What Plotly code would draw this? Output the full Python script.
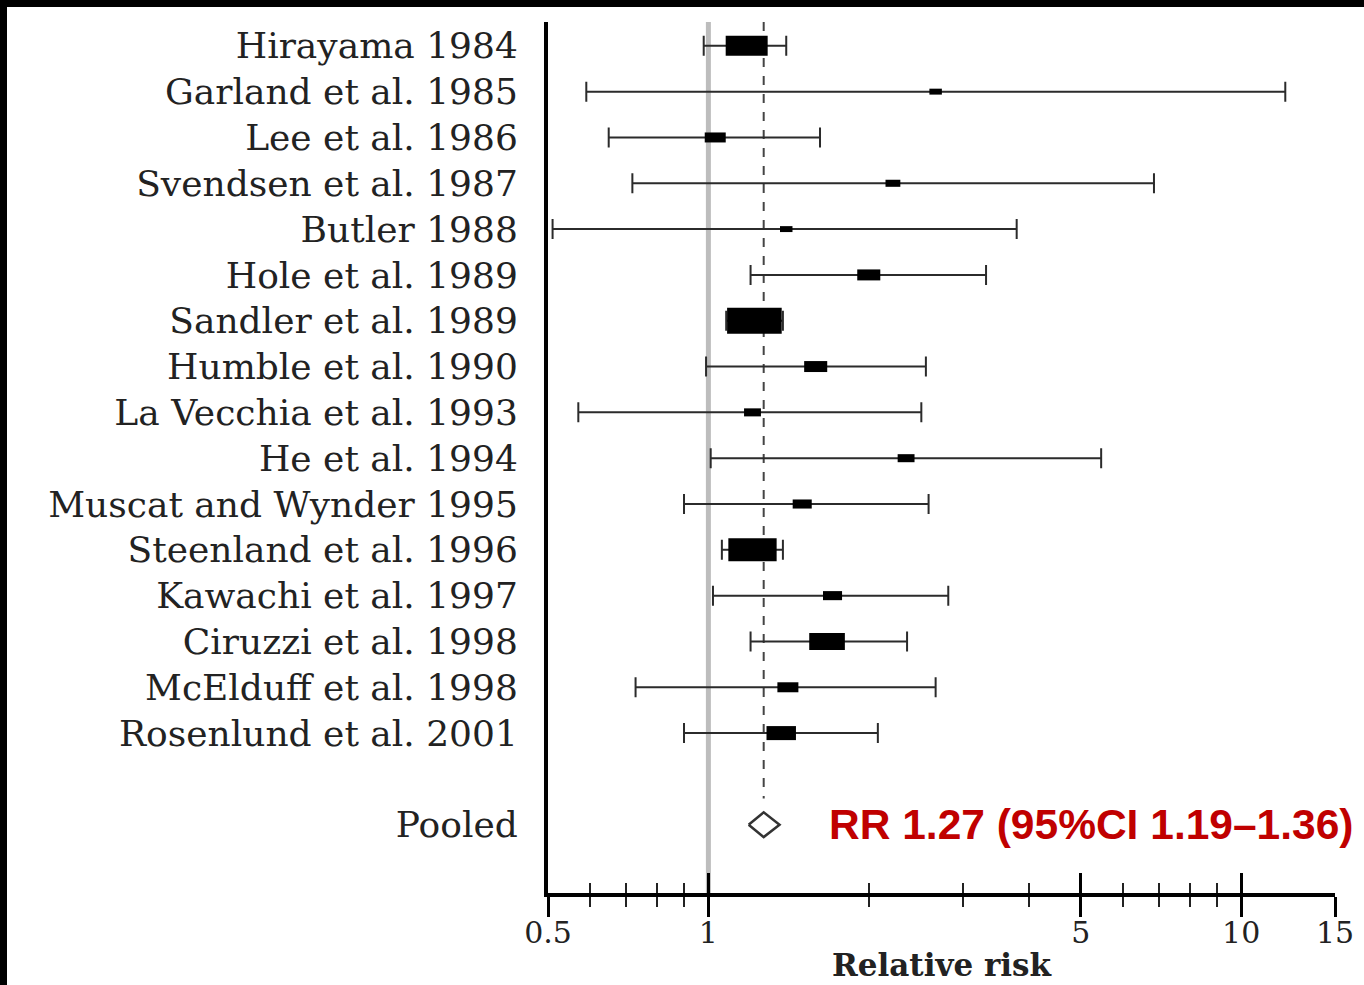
import numpy as np
import plotly.graph_objects as go

# Study-level relative risks with 95% confidence intervals
studies = [
    "Hirayama 1984", "Garland et al. 1985", "Lee et al. 1986", "Svendsen et al. 1987",
    "Butler 1988", "Hole et al. 1989", "Sandler et al. 1989", "Humble et al. 1990",
    "La Vecchia et al. 1993", "He et al. 1994", "Muscat and Wynder 1995",
    "Steenland et al. 1996", "Kawachi et al. 1997", "Ciruzzi et al. 1998",
    "McElduff et al. 1998", "Rosenlund et al. 2001",
]
rr = [1.18, 2.67, 1.03, 2.22, 1.40, 2.00, 1.22, 1.59, 1.21, 2.35, 1.50, 1.21, 1.71, 1.67, 1.41, 1.37]
ci_low = [0.98, 0.59, 0.65, 0.72, 0.51, 1.20, 1.08, 0.99, 0.57, 1.01, 0.90, 1.06, 1.02, 1.20, 0.73, 0.90]
ci_high = [1.40, 12.1, 1.62, 6.86, 3.79, 3.32, 1.38, 2.56, 2.51, 5.46, 2.59, 1.38, 2.82, 2.36, 2.67, 2.08]
weight = [13.6, 1.2, 3.4, 1.7, 1.2, 4.1, 23.0, 4.1, 2.2, 2.2, 2.8, 18.0, 2.8, 9.8, 3.4, 6.7]

# Pooled estimate
pooled_label = "Pooled"
pooled_rr = 1.27
pooled_low = 1.19
pooled_high = 1.36
pooled_text = "RR 1.27 (95%CI 1.19\u20131.36)"

# Axis ticks
x_major = [0.5, 1, 5, 10, 15]
x_major_text = ["0.5", "1", "5", "10", "15"]
x_minor = [0.6, 0.7, 0.8, 0.9, 2, 3, 4, 6, 7, 8, 9]
x_title = "Relative risk"

# ---- layout geometry ----
W, H = 1364, 985
ML, MR, MT, MB = 548, 29, 22, 92
PW, PH = W - ML - MR, H - MT - MB

study_rows = list(range(len(studies)))
pooled_row = len(studies) + 1
Y_TOP = -0.52
Y_BOTTOM = pooled_row + 1.49
X_RANGE = [np.log10(x_major[0]), np.log10(x_major[-1])]

# box size: area proportional to weight, drawn as a wide rectangle
w = np.array(weight)
box_h = 26 * np.sqrt(w / w.max())
box_w = 1.5 * box_h

rr_a = np.array(rr)
err_plus = np.array(ci_high) - rr_a
err_minus = rr_a - np.array(ci_low)

serif = "DejaVu Serif, Liberation Serif, serif"
ink = "#2b2b2b"

fig = go.Figure()

# confidence intervals
fig.add_trace(go.Scatter(
    x=rr, y=study_rows, mode="markers",
    marker=dict(size=1, opacity=0),
    error_x=dict(type="data", symmetric=False, array=err_plus, arrayminus=err_minus,
                 color=ink, thickness=2, width=10),
    showlegend=False, hoverinfo="skip",
))

# weighted boxes on top of the interval lines
fig.add_trace(go.Scatter(
    x=rr, y=study_rows, mode="markers",
    marker=dict(symbol="line-ew", size=box_w, color="#000000", opacity=1,
                line=dict(width=box_h, color="#000000")),
    showlegend=False, hoverinfo="skip",
))

# pooled diamond
d = 0.27
fig.add_trace(go.Scatter(
    x=[pooled_low, pooled_rr, pooled_high, pooled_rr, pooled_low],
    y=[pooled_row, pooled_row - d, pooled_row, pooled_row + d, pooled_row],
    mode="lines", line=dict(color="#333333", width=2.5),
    showlegend=False, hoverinfo="skip",
))

# helper trace so the inner-tick axis is drawn
fig.add_trace(go.Scatter(
    x=[pooled_rr], y=[pooled_row], xaxis="x2", mode="markers",
    marker=dict(opacity=0), showlegend=False, hoverinfo="skip",
))

shapes = [
    # line of no effect
    dict(type="line", xref="x", yref="paper", x0=1, x1=1, y0=0, y1=1,
         line=dict(color="#bdbdbd", width=5), layer="below"),
    # pooled estimate reference line
    dict(type="line", xref="x", yref="y", x0=pooled_rr, x1=pooled_rr,
         y0=Y_TOP, y1=pooled_row - d - 0.3,
         line=dict(color="#444444", width=2, dash="9px,9px"), layer="below"),
    # black frame strips along top and left edge
    dict(type="rect", xref="paper", yref="paper",
         x0=-ML / PW, x1=1 + MR / PW, y0=1 + (MT - 7) / PH, y1=1 + MT / PH,
         fillcolor="black", line=dict(width=0)),
    dict(type="rect", xref="paper", yref="paper",
         x0=-ML / PW, x1=-(ML - 7) / PW, y0=-MB / PH, y1=1 + MT / PH,
         fillcolor="black", line=dict(width=0)),
]

fig.update_layout(
    width=W, height=H, autosize=False,
    margin=dict(l=ML, r=MR, t=MT, b=MB),
    paper_bgcolor="white", plot_bgcolor="white",
    shapes=shapes,
    xaxis=dict(
        type="log", range=X_RANGE, showgrid=False, zeroline=False, automargin=False,
        showline=True, linecolor="black", linewidth=4,
        tickmode="array", tickvals=x_major, ticktext=x_major_text,
        ticks="outside", ticklen=20, tickwidth=3, tickcolor="black",
        ticklabelstandoff=-10,
        minor=dict(tickmode="array", tickvals=x_minor, ticks="outside",
                   ticklen=10, tickwidth=2, tickcolor="#222", showgrid=False),
        tickfont=dict(family=serif, size=30, color="#222"),
        title=dict(text="<b>" + x_title + "</b>", standoff=6,
                   font=dict(family=serif, size=31, color="#222")),
    ),
    xaxis2=dict(
        type="log", range=X_RANGE, overlaying="x", anchor="y", side="bottom",
        showgrid=False, zeroline=False, showline=False, showticklabels=False,
        automargin=False,
        tickmode="array", tickvals=x_major,
        ticks="inside", ticklen=20, tickwidth=3, tickcolor="black",
        minor=dict(tickmode="array", tickvals=x_minor, ticks="inside",
                   ticklen=10, tickwidth=2, tickcolor="#222", showgrid=False),
    ),
    yaxis=dict(
        range=[Y_BOTTOM, Y_TOP], showgrid=False, zeroline=False, automargin=False,
        showline=True, linecolor="black", linewidth=4,
        tickmode="array", tickvals=study_rows + [pooled_row],
        ticktext=studies + [pooled_label],
        ticks="", ticklabelstandoff=19,
        tickfont=dict(family=serif, size=36, color="#222"),
    ),
    annotations=[
        dict(text="<b>" + pooled_text + "</b>", xref="paper", yref="y",
             x=0.355, y=pooled_row, xanchor="left", yanchor="middle",
             showarrow=False,
             font=dict(family="Liberation Sans, Arial, sans-serif", size=42.5, color="#C00000")),
    ],
)

fig.write_html("out.html", config={"responsive": False})
